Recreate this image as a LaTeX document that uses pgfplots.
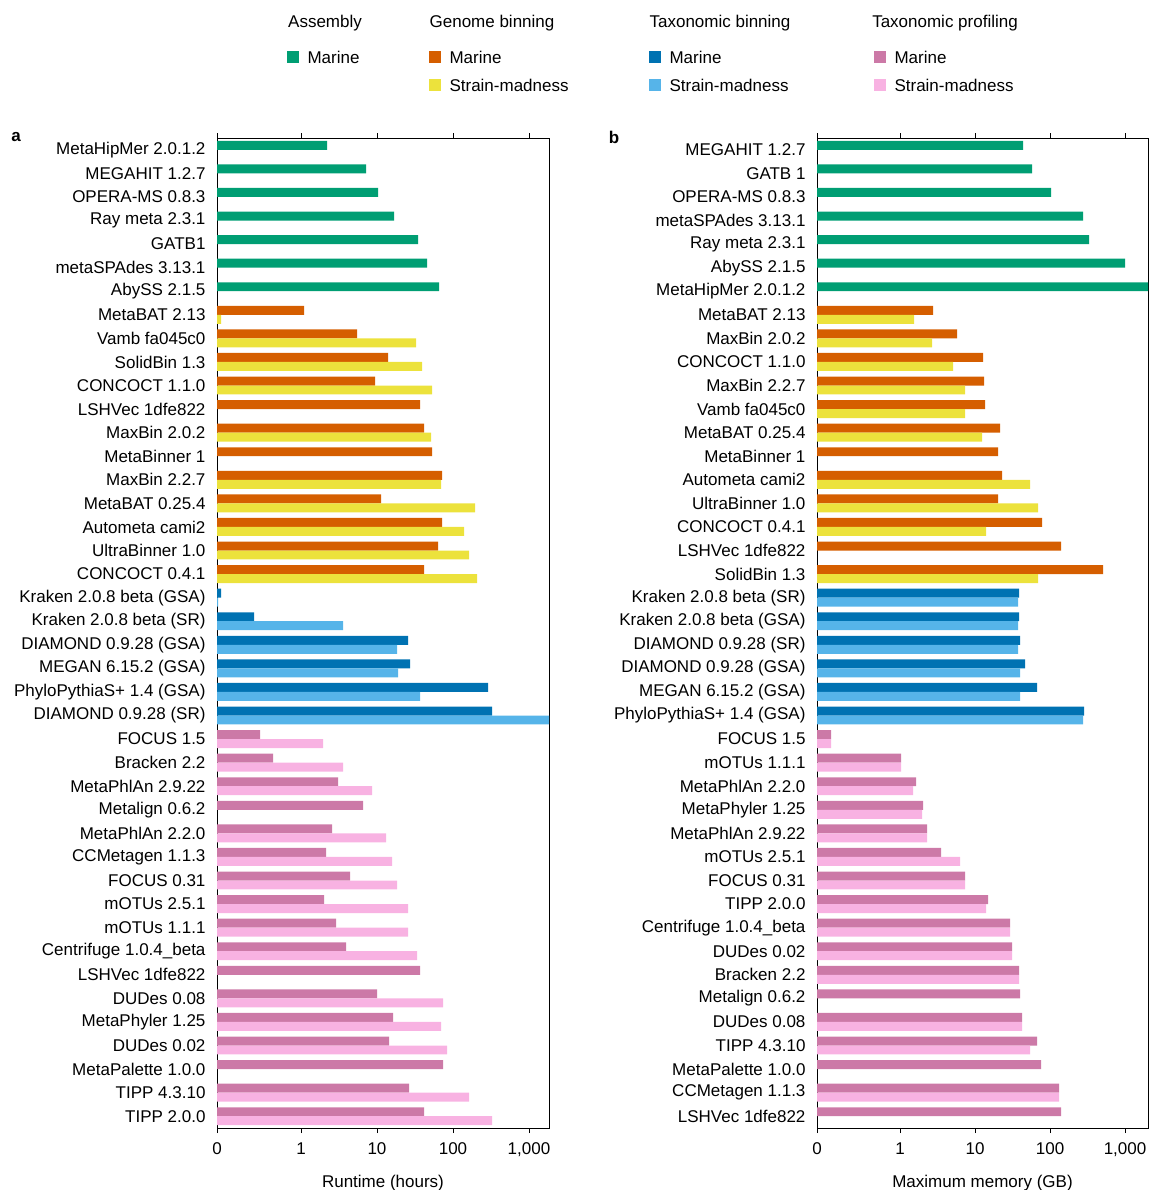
\documentclass[border=0pt]{standalone}
\usepackage{pgfplots}
\pgfplotsset{compat=1.18}
\usepackage{fontspec}
\setmainfont{Liberation Sans}
\definecolor{cgreen}{RGB}{0,158,115}
\definecolor{corange}{RGB}{213,94,0}
\definecolor{cyellow}{RGB}{236,226,60}
\definecolor{cblue}{RGB}{0,114,178}
\definecolor{clblue}{RGB}{86,180,233}
\definecolor{cpurple}{RGB}{204,121,167}
\definecolor{cpink}{RGB}{248,178,226}
\pgfplotsset{
 common/.style={scale only axis, width=331pt, height=990pt,
  ymin=-0.5, ymax=41.5, y dir=reverse, xmin=0,
  ytick={0,...,41}, ytick style={draw=none},
  tick align=outside, major tick length=5pt, xtick style={black},
  x tick label style={yshift=-6pt},
  y tick label style={xshift=-3pt},
  tick label style={font=\fontsize{17}{20}\selectfont},
  label style={font=\fontsize{17}{20}\selectfont},
  xlabel style={yshift=-12pt},
  xticklabels={0,1,10,100,{1,000}},
  xbar, bar width=0.38, },
 dk/.style={fill=#1, draw=none, bar shift=-0.19},
 lt/.style={fill=#1, draw=none, bar shift=0.19},
}
\begin{document}
\begin{tikzpicture}[font=\fontsize{17}{20}\selectfont]
\useasboundingbox (0,0) rectangle (1148pt,-1190pt);
% legend
\node at (325pt,-23pt) {Assembly};
\node at (492pt,-23pt) {Genome binning};
\node at (720pt,-23pt) {Taxonomic binning};
\node at (945pt,-23pt) {Taxonomic profiling};
\foreach \x/\y/\c/\t in {293/57/cgreen/Marine,435/57/corange/Marine,435/85/cyellow/Strain-madness,655/57/cblue/Marine,655/85/clblue/Strain-madness,880/57/cpurple/Marine,880/85/cpink/Strain-madness}{
 \fill[\c] (\x pt-6pt,-\y pt-6pt) rectangle (\x pt+6pt,-\y pt+6pt);
 \node[anchor=west] at (\x pt+11pt,-\y pt) {\t};
}
\node[font=\fontsize{17}{20}\selectfont\bfseries] at (16pt,-137pt) {a};
\node[font=\fontsize{17}{20}\selectfont\bfseries] at (614pt,-137pt) {b};
\begin{axis}[common, at={(217pt,-1128pt)}, anchor=south west, width=332pt,
 xmax=4.368, xtick={0,1.105,2.105,3.105,4.105},
 x filter/.expression={(x-217)/76},
 xlabel={Runtime (hours)},
 yticklabels={MetaHipMer 2.0.1.2,MEGAHIT 1.2.7,OPERA-MS 0.8.3,Ray meta 2.3.1,GATB1,metaSPAdes 3.13.1,AbySS 2.1.5,
 MetaBAT 2.13,Vamb fa045c0,SolidBin 1.3,CONCOCT 1.1.0,LSHVec 1dfe822,MaxBin 2.0.2,MetaBinner 1,MaxBin 2.2.7,MetaBAT 0.25.4,Autometa cami2,UltraBinner 1.0,CONCOCT 0.4.1,
 Kraken 2.0.8 beta (GSA),Kraken 2.0.8 beta (SR),DIAMOND 0.9.28 (GSA),MEGAN 6.15.2 (GSA),PhyloPythiaS+ 1.4 (GSA),DIAMOND 0.9.28 (SR),
 FOCUS 1.5,Bracken 2.2,MetaPhlAn 2.9.22,Metalign 0.6.2,MetaPhlAn 2.2.0,CCMetagen 1.1.3,FOCUS 0.31,mOTUs 2.5.1,mOTUs 1.1.1,Centrifuge 1.0.4\_beta,LSHVec 1dfe822,DUDes 0.08,MetaPhyler 1.25,DUDes 0.02,MetaPalette 1.0.0,TIPP 4.3.10,TIPP 2.0.0}]
\addplot[dk=cgreen] coordinates {(327,0)(366,1)(378,2)(394,3)(418,4)(427,5)(439,6)};
\addplot[dk=corange] coordinates {(304,7)(357,8)(388,9)(375,10)(420,11)(424,12)(432,13)(442,14)(381,15)(442,16)(438,17)(424,18)};
\addplot[lt=cyellow] coordinates {(221,7)(416,8)(422,9)(432,10)(431,12)(441,14)(475,15)(464,16)(469,17)(477,18)};
\addplot[dk=cblue] coordinates {(221,19)(254,20)(408,21)(410,22)(488,23)(492,24)};
\addplot[lt=clblue] coordinates {(218,19)(343,20)(397,21)(398,22)(420,23)(560,24)};
\addplot[dk=cpurple] coordinates {(260,25)(273,26)(338,27)(363,28)(332,29)(326,30)(350,31)(324,32)(336,33)(346,34)(420,35)(377,36)(393,37)(389,38)(443,39)(409,40)(424,41)};
\addplot[lt=cpink] coordinates {(323,25)(343,26)(372,27)(386,29)(392,30)(397,31)(408,32)(408,33)(417,34)(443,36)(441,37)(447,38)(469,40)(492,41)};
\end{axis}
\begin{axis}[common, at={(817pt,-1128pt)}, anchor=south west,
 xmax=4.413, xtick={0,1.107,2.107,3.107,4.107},
 x filter/.expression={(x-817)/75},
 xlabel={Maximum memory (GB)},
 yticklabels={MEGAHIT 1.2.7,GATB 1,OPERA-MS 0.8.3,metaSPAdes 3.13.1,Ray meta 2.3.1,AbySS 2.1.5,MetaHipMer 2.0.1.2,
 MetaBAT 2.13,MaxBin 2.0.2,CONCOCT 1.1.0,MaxBin 2.2.7,Vamb fa045c0,MetaBAT 0.25.4,MetaBinner 1,Autometa cami2,UltraBinner 1.0,CONCOCT 0.4.1,LSHVec 1dfe822,SolidBin 1.3,
 Kraken 2.0.8 beta (SR),Kraken 2.0.8 beta (GSA),DIAMOND 0.9.28 (SR),DIAMOND 0.9.28 (GSA),MEGAN 6.15.2 (GSA),PhyloPythiaS+ 1.4 (GSA),
 FOCUS 1.5,mOTUs 1.1.1,MetaPhlAn 2.2.0,MetaPhyler 1.25,MetaPhlAn 2.9.22,mOTUs 2.5.1,FOCUS 0.31,TIPP 2.0.0,Centrifuge 1.0.4\_beta,DUDes 0.02,Bracken 2.2,Metalign 0.6.2,DUDes 0.08,TIPP 4.3.10,MetaPalette 1.0.0,CCMetagen 1.1.3,LSHVec 1dfe822}]
\addplot[dk=cgreen] coordinates {(1023,0)(1032,1)(1051,2)(1083,3)(1089,4)(1125,5)(1160,6)};
\addplot[dk=corange] coordinates {(933,7)(957,8)(983,9)(984,10)(985,11)(1000,12)(998,13)(1002,14)(998,15)(1042,16)(1061,17)(1103,18)};
\addplot[lt=cyellow] coordinates {(914,7)(932,8)(953,9)(965,10)(965,11)(982,12)(1030,14)(1038,15)(986,16)(1038,18)};
\addplot[dk=cblue] coordinates {(1019,19)(1019,20)(1020,21)(1025,22)(1037,23)(1084,24)};
\addplot[lt=clblue] coordinates {(1018,19)(1018,20)(1018,21)(1020,22)(1020,23)(1083,24)};
\addplot[dk=cpurple] coordinates {(831,25)(901,26)(916,27)(923,28)(927,29)(941,30)(965,31)(988,32)(1010,33)(1012,34)(1019,35)(1020,36)(1022,37)(1037,38)(1041,39)(1059,40)(1061,41)};
\addplot[lt=cpink] coordinates {(831,25)(901,26)(913,27)(922,28)(927,29)(960,30)(965,31)(986,32)(1010,33)(1012,34)(1019,35)(1022,37)(1030,38)(1059,40)};
\end{axis}
\end{tikzpicture}
\end{document}
